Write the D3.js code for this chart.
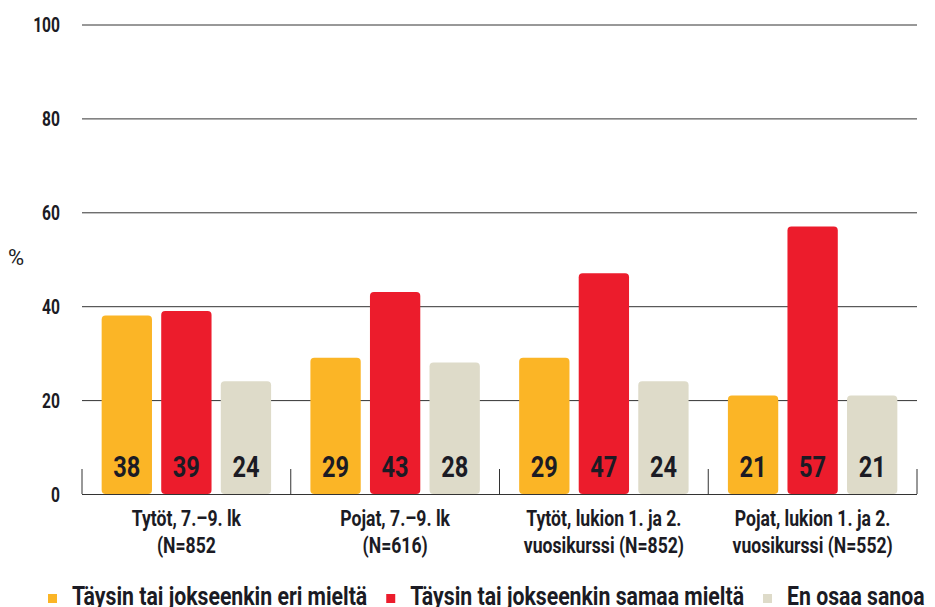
<!DOCTYPE html>
<html>
<head>
<meta charset="utf-8">
<script src="https://cdn.jsdelivr.net/npm/d3@7"></script>
<style>
  body { margin: 0; background: #fff; }
  svg text { font-family: Roboto, "Liberation Sans", sans-serif; font-weight: bold; fill: #1b1b24; }
</style>
</head>
<body>
<div id="chart"></div>
<script>
// chart data
const groups = [
  ["Tytöt, 7.–9. lk", "(N=852"],
  ["Pojat, 7.–9. lk", "(N=616)"],
  ["Tytöt, lukion 1. ja 2.", "vuosikurssi (N=852)"],
  ["Pojat, lukion 1. ja 2.", "vuosikurssi (N=552)"]
];
const seriesNames = ["Täysin tai jokseenkin eri mieltä", "Täysin tai jokseenkin samaa mieltä", "En osaa sanoa"];
const seriesColors = ["#fbb526", "#ec1c2c", "#dedbc9"];
const eriMielta = [38, 29, 29, 21];
const samaaMielta = [39, 43, 47, 57];
const enOsaa = [24, 28, 24, 21];
const yTicks = [0, 20, 40, 60, 80, 100];

const values = [eriMielta, samaaMielta, enOsaa];
const width = 935, height = 607;
const margin = { top: 24.5, right: 18, bottom: 113, left: 82 };
const squeeze = 0.8; // the original uses a condensed face

const svg = d3.select("#chart").append("svg")
  .attr("width", width)
  .attr("height", height);

// condensed text helper
function ctext(parent, x, y, size, anchor, str, sx = squeeze) {
  return parent.append("text")
    .attr("transform", `translate(${x},${y}) scale(${sx},1)`)
    .attr("text-anchor", anchor)
    .style("font-size", size + "px")
    .text(str);
}

const y = d3.scaleLinear()
  .domain([0, 100])
  .range([height - margin.bottom, margin.top]);

const x0 = d3.scaleBand()
  .domain(d3.range(groups.length))
  .range([margin.left, width - margin.right])
  .paddingInner(0)
  .paddingOuter(0);

const x1 = d3.scaleBand()
  .domain(d3.range(seriesNames.length))
  .range([0, x0.bandwidth()])
  .paddingInner(0.155)
  .paddingOuter(0.33);

// gridlines + y labels
const yAxis = svg.append("g")
  .attr("transform", `translate(${margin.left},0)`)
  .call(d3.axisLeft(y).tickValues(yTicks).tickSize(-(width - margin.left - margin.right)).tickPadding(0));
yAxis.select(".domain").remove();
yAxis.selectAll(".tick line").attr("stroke", "#333").attr("stroke-width", 1);
yAxis.selectAll(".tick text")
  .style("font-size", "19.5px")
  .attr("x", -22 / squeeze)
  .attr("dy", "0.36em")
  .attr("transform", `scale(${squeeze},1)`);

// group separators
const y0 = y(0);
svg.append("g").selectAll("line")
  .data(d3.range(groups.length + 1))
  .join("line")
  .attr("x1", i => i < groups.length ? x0(i) : x0(groups.length - 1) + x0.bandwidth())
  .attr("x2", i => i < groups.length ? x0(i) : x0(groups.length - 1) + x0.bandwidth())
  .attr("y1", y0)
  .attr("y2", y0 - 25)
  .attr("stroke", "#333");

// bars
const g = svg.append("g").selectAll("g")
  .data(groups)
  .join("g")
  .attr("transform", (d, i) => `translate(${x0(i)},0)`);

g.selectAll("rect")
  .data((d, i) => values.map((s, k) => ({ k, v: s[i] })))
  .join("rect")
  .attr("x", d => x1(d.k))
  .attr("width", x1.bandwidth())
  .attr("y", d => y(d.v))
  .attr("height", d => y0 - y(d.v))
  .attr("rx", 4)
  .attr("fill", d => seriesColors[d.k]);

g.each(function (d, i) {
  const grp = d3.select(this);
  values.forEach((s, k) => {
    ctext(grp, x1(k) + x1.bandwidth() / 2, y0 - 17, 29.5, "middle", s[i]);
  });
  // category labels
  d.forEach((line, j) => {
    ctext(grp, x0.bandwidth() / 2, 525.5 + j * 27.5, 22, "middle", line);
  });
});

// % label
ctext(svg, 8, 265, 22, "start", "%", 1).style("font-weight", "normal");

// legend
const legend = svg.append("g");
const legendSqueeze = 0.85;
let lx = 48;
seriesNames.forEach((name, k) => {
  legend.append("rect")
    .attr("x", lx).attr("y", 594)
    .attr("width", 9).attr("height", 9)
    .attr("fill", seriesColors[k]);
  const t = ctext(legend, lx + 24, 604.5, 25, "start", name, legendSqueeze);
  lx += 24 + t.node().getComputedTextLength() * legendSqueeze + 19;
});
</script>
</body>
</html>
